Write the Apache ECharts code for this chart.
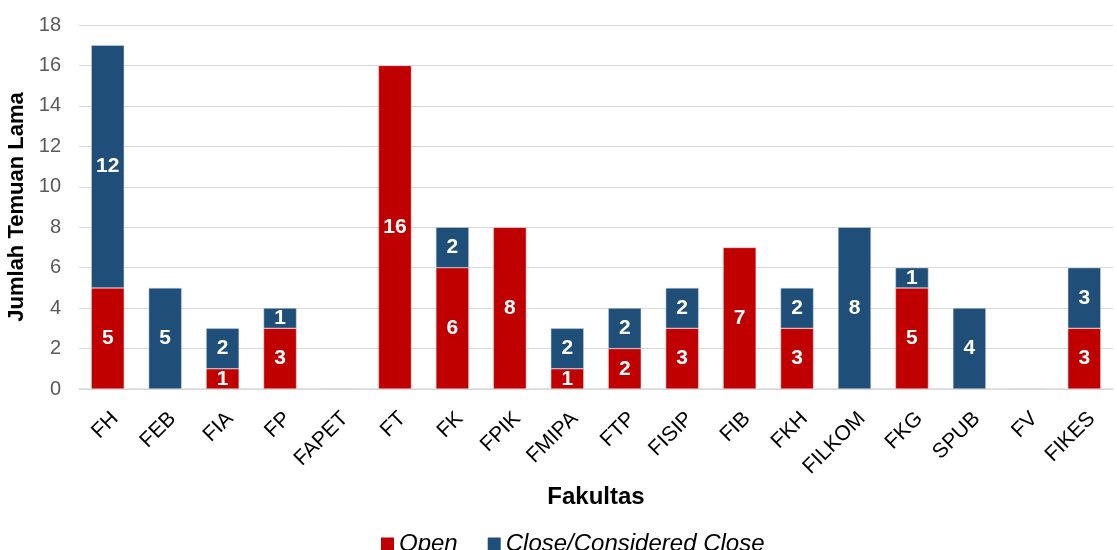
<!doctype html>
<html lang="en">
<head>
    <meta charset="utf-8">
    <title>Temuan Lama per Fakultas</title>
    <script src="https://cdn.jsdelivr.net/npm/echarts@6/dist/echarts.min.js"></script>
    <style>
        *{margin:0;padding:0}
        html,body{width:100%;height:100%;background:#fff}
        #main{width:1117px;height:550px}
    </style>
</head>
<body>
<div id="main"></div>
<script type="text/javascript">
    var fakultas = ['FH','FEB','FIA','FP','FAPET','FT','FK','FPIK','FMIPA','FTP','FISIP','FIB','FKH','FILKOM','FKG','SPUB','FV','FIKES'];
    var openData = [5,0,1,3,0,16,6,8,1,2,3,7,3,0,5,0,0,3];
    var closeData = [12,5,2,1,0,0,2,0,2,2,2,0,2,8,1,4,0,3];

    var myChart = echarts.init(document.getElementById('main'));

    var labelOpt = {
        show: true,
        position: 'inside',
        color: '#fff',
        fontWeight: 'bold',
        fontSize: 21,
        formatter: function(p) {
            return p.value ? p.value : '';
        }
    };

    var option = {
        animation: false,
        textStyle: {fontFamily: 'Liberation Sans'},
        grid: {left: 79, right: 4, top: 25, bottom: 161, containLabel: false, outerBoundsMode: 'none'},
        legend: {
            top: 527,
            left: 376,
            itemWidth: 13,
            itemHeight: 13,
            itemGap: 30,
            icon: 'rect',
            itemStyle: {borderWidth: 0},
            textStyle: {fontSize: 24, fontStyle: 'italic', color: '#000'},
            data: ['Open', 'Close/Considered Close']
        },
        xAxis: {
            type: 'category',
            data: fakultas,
            name: 'Fakultas',
            nameLocation: 'middle',
            nameGap: 88,
            nameTextStyle: {fontSize: 24, fontWeight: 'bold', color: '#000'},
            axisLine: {lineStyle: {color: '#d9d9d9', width: 1.5}},
            axisTick: {show: false},
            axisLabel: {rotate: 45, fontSize: 21, color: '#000', margin: 19, verticalAlign: 'top', interval: 0}
        },
        yAxis: {
            type: 'value',
            min: 0,
            max: 18,
            interval: 2,
            name: 'Jumlah Temuan Lama',
            nameLocation: 'middle',
            nameGap: 42,
            nameTextStyle: {fontSize: 22, fontWeight: 'bold', color: '#000'},
            axisLine: {show: false},
            axisTick: {show: false},
            axisLabel: {fontSize: 20, color: '#595959', margin: 18},
            splitLine: {lineStyle: {color: '#d9d9d9', width: 1}}
        },
        series: [
            {
                name: 'Open',
                type: 'bar',
                stack: 'total',
                barWidth: 33,
                itemStyle: {color: '#c00000', borderColor: '#f2d0d0', borderWidth: 0.5},
                label: labelOpt,
                data: openData
            },
            {
                name: 'Close/Considered Close',
                type: 'bar',
                stack: 'total',
                barWidth: 33,
                itemStyle: {color: '#1f4e79', borderColor: '#d0dbe6', borderWidth: 0.5},
                label: labelOpt,
                data: closeData
            }
        ]
    };
    myChart.setOption(option);
</script>
</body>
</html>
